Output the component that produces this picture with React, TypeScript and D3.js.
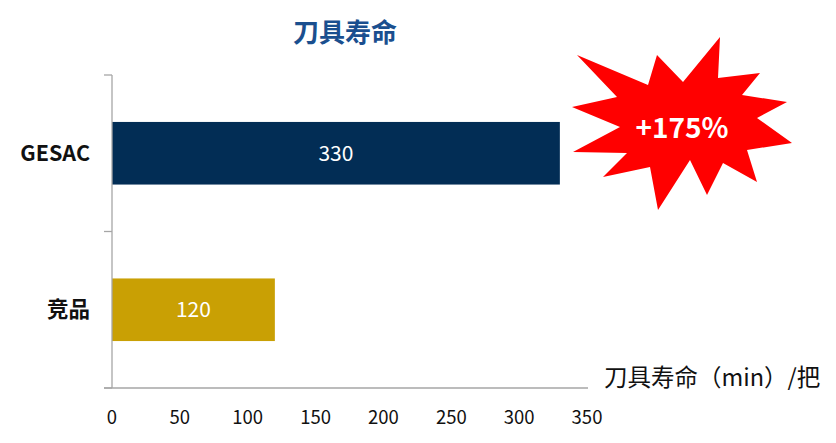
import React from "react";
import * as d3 from "d3";

const categories = ["GESAC", "竞品"];
const values = [330, 120];
const barColors = ["#022d55", "#c9a004"];
const xTicks = [0, 50, 100, 150, 200, 250, 300, 350];
const title = "刀具寿命";
const axisTitle = "刀具寿命（min）/把";
const badge = "+175%";

// starburst outline relative to its centre (decoration)
const burstPts: [number, number][] = [
  [-105, -73], [-34, -43], [-25, -73], [1, -46], [38, -91], [36, -50], [78, -55],
  [60, -33], [105, -26], [75, -10], [110, 15], [65, 22], [75, 54], [41, 35],
  [25, 67], [8, 32], [-24, 82], [-32, 39], [-79, 49], [-55, 25], [-109, 24],
  [-62, -1], [-110, -21], [-65, -31],
];

const FONT = "'Noto Sans CJK SC', 'Noto Sans', sans-serif";

export default function App() {
  const W = 836, H = 443;
  const x0 = 112, x1 = 587, yTop = 75, yBot = 388;
  const x = d3.scaleLinear().domain([0, 350]).range([x0, x1]);
  const y = d3.scaleBand().domain(categories).range([yTop, yBot]).paddingInner(0.6).paddingOuter(0.3);
  const yEdges = d3.scaleBand().domain(categories).range([yTop, yBot]);
  const line = d3.line();
  const cx = 682, cy = 128;
  const burst = line(burstPts.map(([a, b]) => [cx + a, cy + b])) + "Z";
  const axisColor = "#a6a6a6";

  return (
    <svg width={W} height={H} style={{ position: "absolute", left: 0, top: 0, fontFamily: FONT }}>
      <rect width={W} height={H} fill="#fff" />
      <text x={345} y={42} textAnchor="middle" fontSize={26} fontWeight="bold" fill="#1a4f8f">{title}</text>
      {categories.map((c, i) => (
        <g key={c}>
          <rect x={x(0)} y={y(c)} width={x(values[i]) - x(0)} height={y.bandwidth()} fill={barColors[i]} />
          <text x={(x(0) + x(values[i])) / 2} y={y(c)! + y.bandwidth() / 2} dy="0.35em" textAnchor="middle" fontSize={21} fill="#fff">{values[i]}</text>
          <text x={90} y={y(c)! + y.bandwidth() / 2} dy="0.35em" textAnchor="end" fontSize={21.5} fontWeight="bold" fill="#111">{c}</text>
        </g>
      ))}
      <line x1={x0} x2={x0} y1={yTop} y2={yBot} stroke={axisColor} strokeWidth={1.3} />
      {[yTop, ...categories.map((c) => yEdges(c)! + yEdges.bandwidth())].map((v, i) => (
        <line key={i} x1={x0 - 8} x2={x0} y1={v} y2={v} stroke={axisColor} strokeWidth={1.3} />
      ))}
      <line x1={104} x2={588} y1={yBot} y2={yBot} stroke={axisColor} strokeWidth={1.3} />
      {xTicks.map((t) => (
        <text key={t} x={x(t)} y={424} textAnchor="middle" fontSize={18.5} fill="#111">{t}</text>
      ))}
      <text x={604} y={386} fontSize={23.5} fill="#111">{axisTitle}</text>
      <path d={burst} fill="#ff0000" />
      <text x={cx} y={cy} dy="0.35em" textAnchor="middle" fontSize={28} fontWeight="bold" fill="#fff">{badge}</text>
    </svg>
  );
}
